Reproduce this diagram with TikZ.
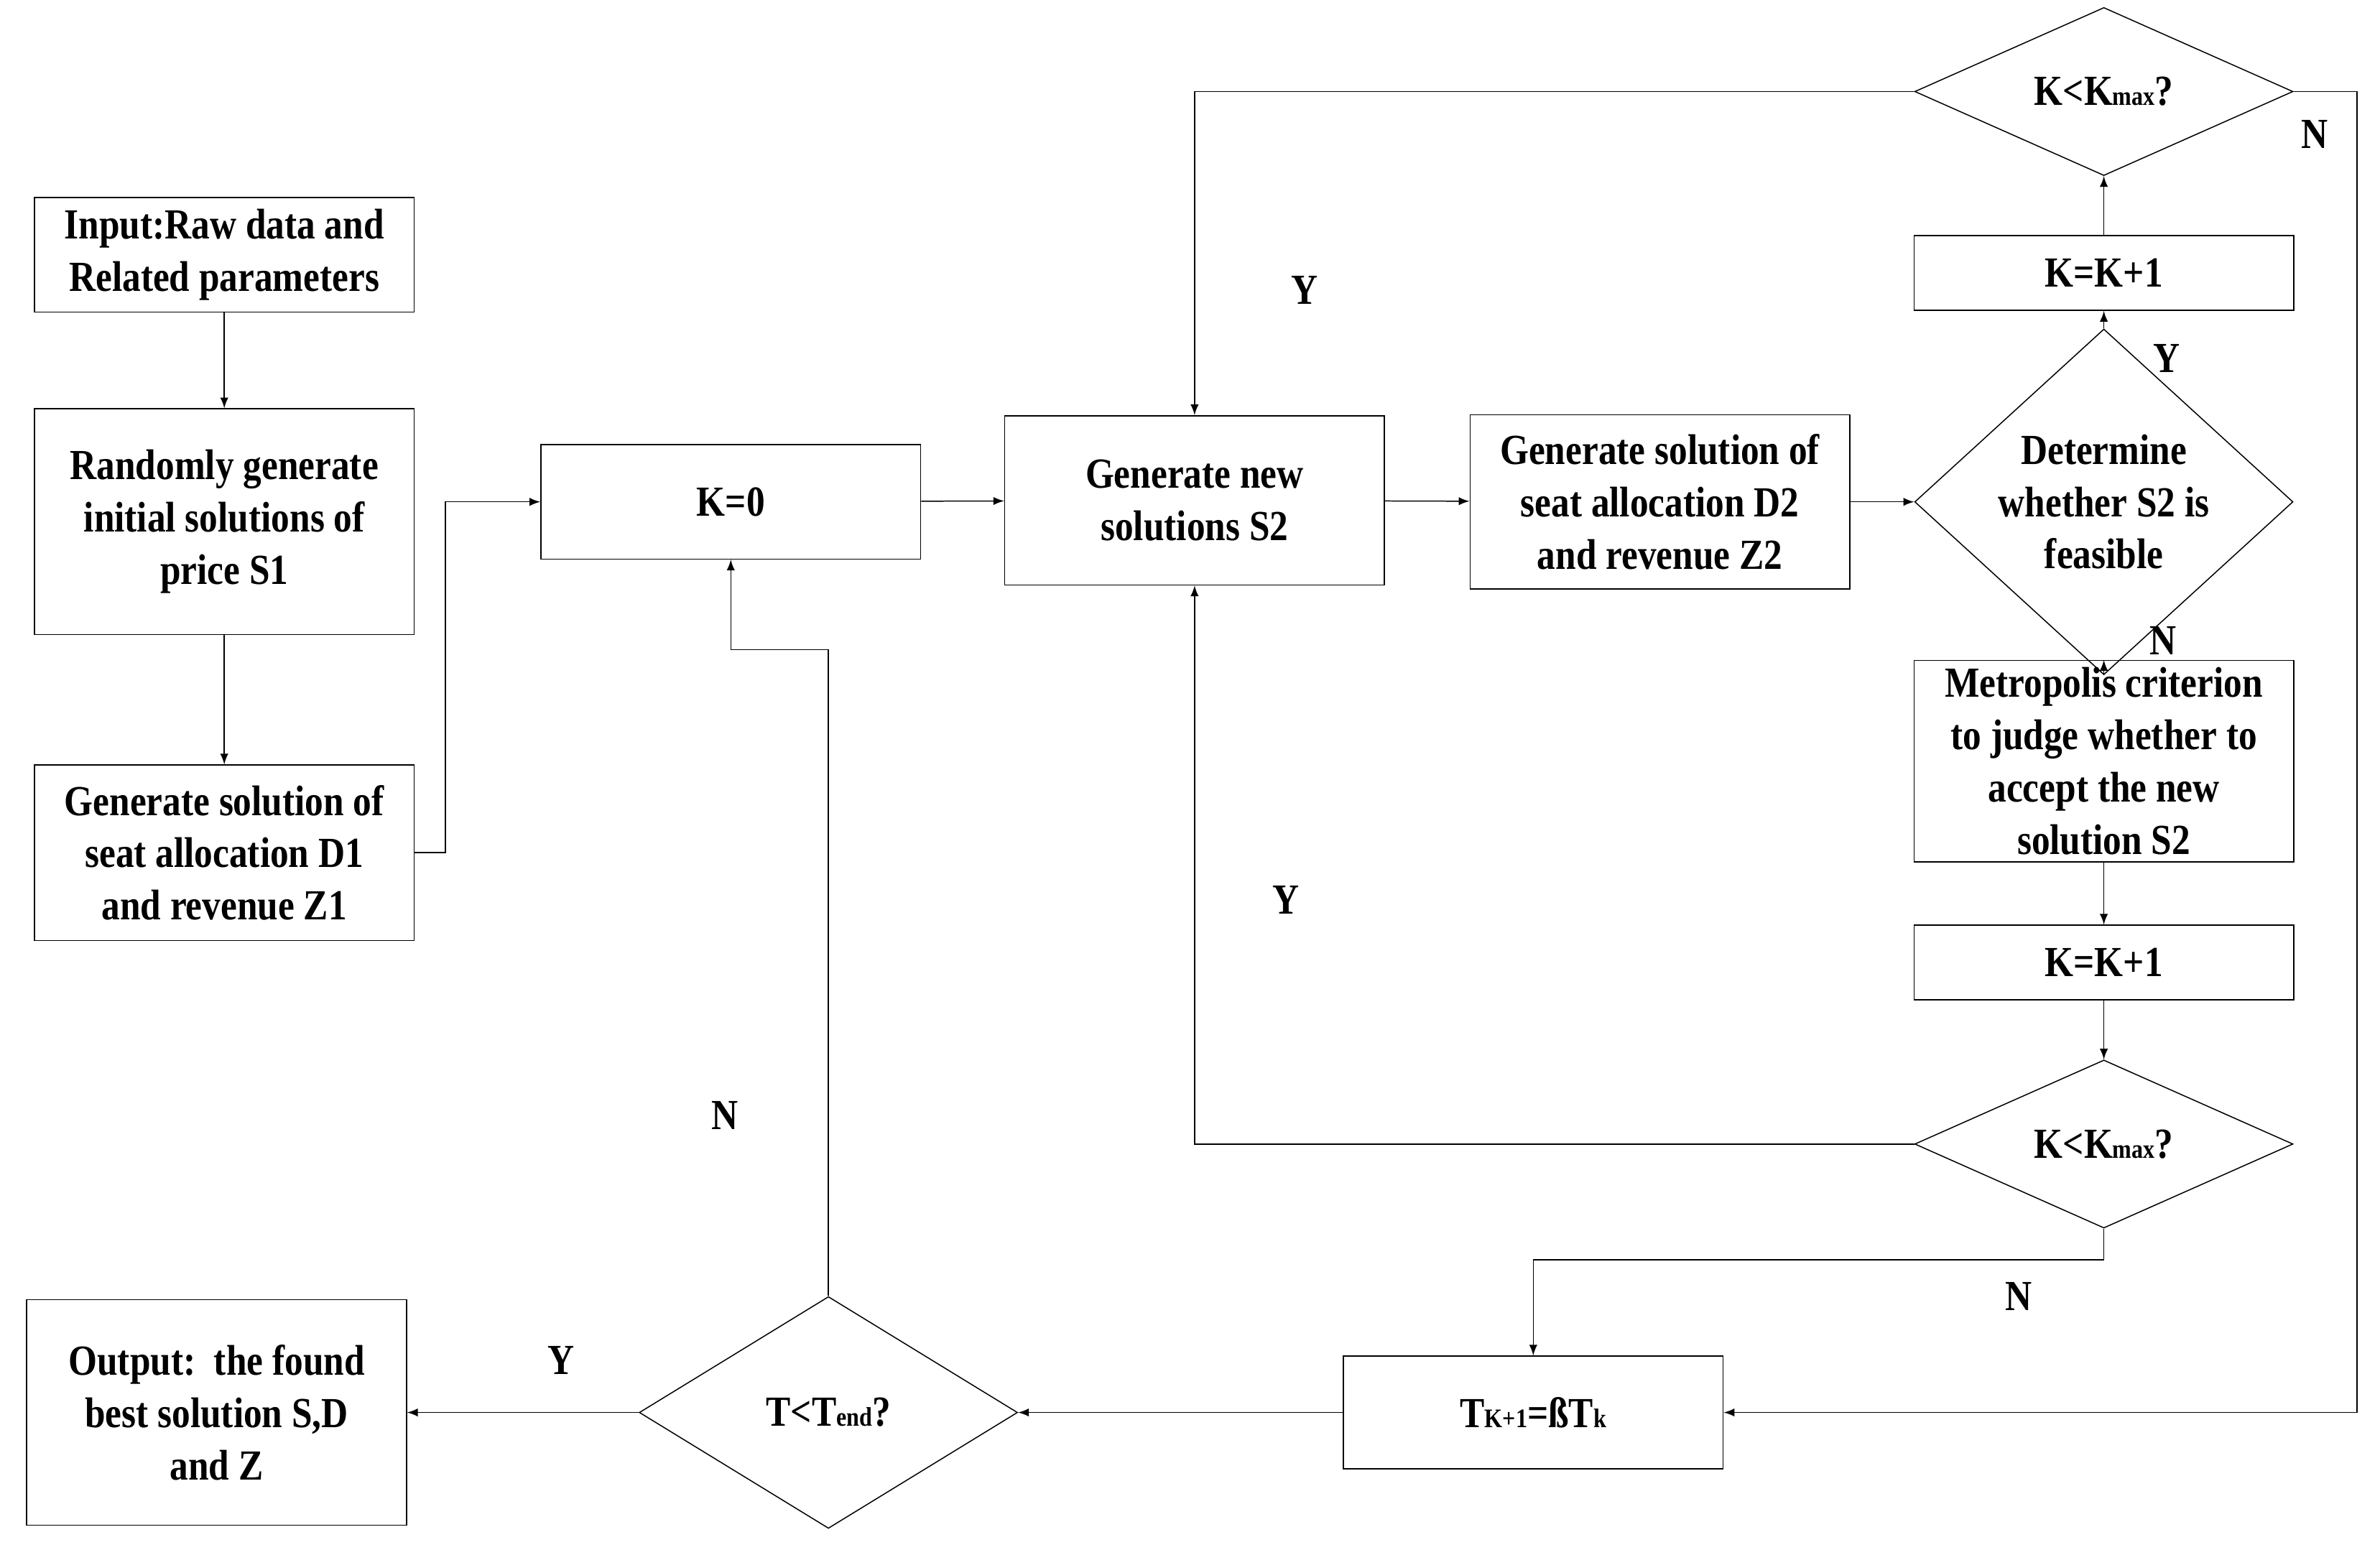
\documentclass[tikz,border=0pt]{standalone}
\usepackage{fontspec}
\setmainfont{Liberation Serif}[FakeStretch=0.86]
\usetikzlibrary{shapes.geometric}
\usetikzlibrary{positioning}
\tikzset{
  box/.style={draw,thin,minimum width=4.98cm,align=center,inner sep=1pt,font=\bfseries\fontsize{16}{19.5}\selectfont},
  dia/.style={draw,thin,diamond,minimum width=4.96cm,inner sep=0pt,align=center,font=\bfseries\fontsize{16}{19.5}\selectfont},
  lab/.style={font=\bfseries\fontsize{16}{19.5}\selectfont},
  arr/.style={thin,-latex},
}
\newcommand{\sbt}[1]{{\fontsize{10}{10}\selectfont #1}}
\begin{document}
\begin{tikzpicture}[x=0.02cm,y=-0.02cm]
  \useasboundingbox (0,0) rectangle (1560,1019);

  % left column
  \node[box,minimum height=1.5cm] (input) at (147,167) {Input:Raw data and\\Related parameters};
  \node[box,minimum height=2.96cm] (rand) at (147,342) {Randomly generate\\initial solutions of\\price S1};
  \node[box,minimum height=2.3cm] (gd1) at (147,559) {Generate solution of\\seat allocation D1\\and revenue Z1};

  % middle row
  \node[box,minimum height=1.5cm] (k0) at (479,329) {K=0};
  \node[box,minimum height=2.22cm] (gs2) at (783,328) {Generate new\\solutions S2};
  \node[box,minimum height=2.28cm] (gd2) at (1088,329) {Generate solution of\\seat allocation D2\\and revenue Z2};

  % right column
  \node[dia,minimum height=3cm] (feas) at (1379,329) {Determine\\whether S2 is\\feasible};
  \node[box,minimum height=0.98cm] (inc1) at (1379,179) {K=K+1};
  \node[dia,minimum height=1.72cm] (kmax1) at (1379,60) {K<K\sbt{max}?};
  \node[box,minimum height=2.64cm] (metro) at (1379,499) {Metropolis criterion\\to judge whether to\\accept the new\\solution S2};
  \node[box,minimum height=0.98cm] (inc2) at (1379,631) {K=K+1};
  \node[dia,minimum height=1.72cm] (kmax2) at (1379,750) {K<K\sbt{max}?};

  % bottom row
  \node[box,minimum height=1.48cm] (temp) at (1005,926) {T\sbt{K+1}=ßT\sbt{k}};
  \node[dia,minimum height=3.04cm] (tend) at (543,926) {T<T\sbt{end}?};
  \node[box,minimum height=2.96cm] (out) at (142,926) {Output:\ \ the found\\best solution S,D\\and Z};

  \draw[arr] (input) -- (rand);
  \draw[arr] (rand) -- (gd1);
  \draw[arr] (gd1.east) -- (292,559) -- (292,329) -- (k0.west);
  \draw[arr] (k0) -- (gs2);
  \draw[arr] (gs2) -- (gd2);
  \draw[arr] (gd2) -- (feas);
  \draw[arr] (feas) -- (inc1);
  \draw[arr] (inc1) -- (kmax1);
  \draw[arr] (kmax1.west) -- (783,60) -- (gs2.north);
  \draw[arr] (kmax1.east) -- (1545,60) -- (1545,926) -- (temp.east);
  \draw[arr] (feas) -- (metro);
  \draw[arr] (metro) -- (inc2);
  \draw[arr] (inc2) -- (kmax2);
  \draw[arr] (kmax2.west) -- (783,750) -- (gs2.south);
  \draw[arr] (kmax2.south) -- (1379,826) -- (1005,826) -- (temp.north);
  \draw[arr] (temp) -- (tend);
  \draw[arr] (tend) -- (out);
  \draw[arr] (tend.north) -- (543,426) -- (479,426) -- (k0.south);

  \node[lab] (y1) at (1420,235) {Y};
  \node[lab] (y2) at (855,190) {Y};
  \node[lab] (n1) at (1517,88) {N};
  \node[lab] (n2) at (1418,420) {N};
  \node[lab] (y3) at (843,590) {Y};
  \node[lab] (n3) at (1323,850) {N};
  \node[lab] (y4) at (368,892) {Y};
  \node[lab] (n4) at (475,731) {N};
\end{tikzpicture}
\end{document}
